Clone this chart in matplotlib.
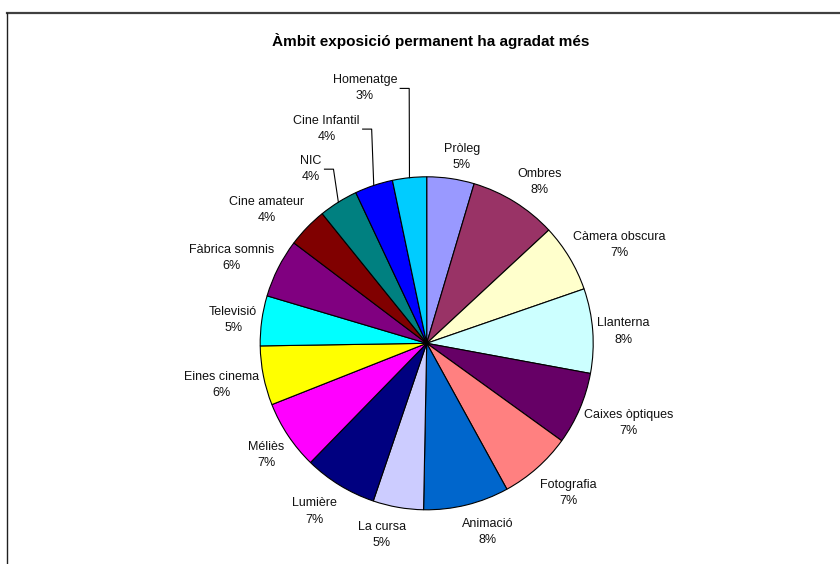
import numpy as np
import matplotlib.pyplot as plt
from matplotlib.lines import Line2D

# data (share of answers, %), clockwise from 12 o'clock
ambits = ["Pròleg", "Ombres", "Càmera obscura", "Llanterna", "Caixes òptiques",
          "Fotografia", "Animació", "La cursa", "Lumière", "Méliès",
          "Eines cinema", "Televisió", "Fàbrica somnis", "Cine amateur",
          "NIC", "Cine Infantil", "Homenatge"]
shares = [4.6, 8.5, 6.6, 8.2, 7.05, 7.05, 8.3, 4.9, 7.1, 6.7,
          5.75, 4.85, 5.7, 3.9, 3.8, 3.7, 3.3]
colors = ["#9999FF", "#993366", "#FFFFCC", "#CCFFFF", "#660066",
          "#FF8080", "#0066CC", "#CCCCFF", "#000080", "#FF00FF",
          "#FFFF00", "#00FFFF", "#800080", "#800000",
          "#008080", "#0000FF", "#00CCFF"]

title = "Àmbit exposició permanent ha agradat més"

# labels that Excel pushed away from the pie (pixel nudge, with leader line)
nudges = {"NIC": (-14.5, 12.8), "Cine Infantil": (-14.8, 35.4),
          "Homenatge": (-27.7, 68)}

plt.rcParams['font.family'] = ['Liberation Sans', 'DejaVu Sans']

fig = plt.figure(figsize=(8.4, 5.64), dpi=100)
ax = fig.add_axes([0, 0, 1, 1])

cx, cy, r = 426.7, 220.7, 166.5
wedges, _ = ax.pie(shares, colors=colors, startangle=90, counterclock=False,
                   center=(cx, cy), radius=r,
                   wedgeprops=dict(edgecolor="black", linewidth=0.8))
ax.set_xlim(0, 840)
ax.set_ylim(0, 564)
ax.set_aspect("equal")
ax.axis("off")

renderer = fig.canvas.get_renderer()
d0 = r + 7.5
for wdg, name, val in zip(wedges, ambits, shares):
    ang = np.deg2rad((wdg.theta1 + wdg.theta2) / 2)
    ux, uy = np.cos(ang), np.sin(ang)
    t = ax.text(0, 0, f"{name}\n{val:.0f}%", ha="center", va="center",
                multialignment="center", fontsize=9, linespacing=1.45,
                color="#111111")
    bb = t.get_window_extent(renderer)
    hw, hh = bb.width / 2, bb.height / 2
    # Excel-like placement: anchor just outside the rim, box pushed outwards
    fx = min(1.0, 0.3 + 2 * abs(ux))
    fy = min(1.2, 1.6 * abs(uy))
    x = cx + ux * (d0 - 3) + np.sign(ux) * hw * fx
    y = cy + uy * d0 + np.sign(uy) * hh * fy - 3
    if name in nudges:
        x += nudges[name][0]
        y += nudges[name][1]
        # leader line: short horizontal tick, then down to the rim
        xr = x + hw
        ax.add_line(Line2D([xr + 3, xr + 12, cx + ux * r], [y, y, cy + uy * r],
                           color="black", linewidth=0.8))
    t.set_position((x, y))

fig.text(431 / 840, 1 - 41 / 564, title, ha="center", va="center",
         fontsize=11, fontweight="bold")

# chart frame (only top and left edges are inside the picture)
fig.add_artist(Line2D([7 / 840, 1], [1 - 12.5 / 564] * 2, color="#404040",
                      linewidth=1.6, transform=fig.transFigure))
fig.add_artist(Line2D([7 / 840] * 2, [0, 1 - 12.5 / 564], color="#202020",
                      linewidth=1.0, transform=fig.transFigure))

fig.savefig("out.png", dpi=100)
